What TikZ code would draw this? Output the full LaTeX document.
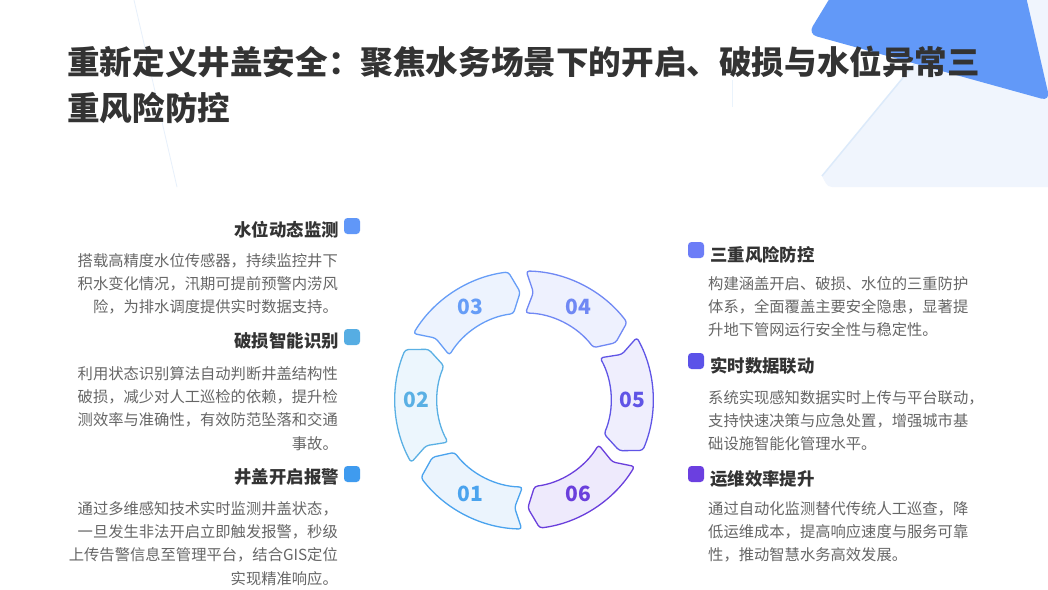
\documentclass[tikz,border=0pt]{standalone}
\usepackage{fontspec}
\setmainfont{Noto Sans CJK SC}
\usetikzlibrary{calc}
\definecolor{titlec}{HTML}{333333}
\definecolor{bodyc}{HTML}{666666}
\definecolor{palebg}{HTML}{F0F5FD}
\definecolor{paleedge}{HTML}{DCEAFA}
\definecolor{blueshape}{HTML}{6299F8}
\definecolor{sA}{HTML}{4AA3EE}\definecolor{fA}{HTML}{EBF4FD}
\definecolor{sB}{HTML}{5AB0E4}\definecolor{fB}{HTML}{ECF6FD}
\definecolor{sC}{HTML}{669DF7}\definecolor{fC}{HTML}{EDF3FE}
\definecolor{sD}{HTML}{7088F4}\definecolor{fD}{HTML}{EEF1FE}
\definecolor{sE}{HTML}{6055E6}\definecolor{fE}{HTML}{EFEEFD}
\definecolor{sF}{HTML}{6A3FDC}\definecolor{fF}{HTML}{EEEAFC}
\definecolor{mA}{HTML}{3F9BEF}
\definecolor{mB}{HTML}{56ADE3}
\definecolor{mC}{HTML}{6097F8}
\definecolor{mD}{HTML}{6C7DF7}
\definecolor{mE}{HTML}{5B52E8}
\definecolor{mF}{HTML}{6B3FE0}
\newcommand{\ringseg}[5]{%
  \draw[segline, draw=#2, fill=#3]
    (#1:129) arc[start angle=#1, end angle=#1-52, radius=129]
    -- ({#1-57}:108) -- ({#1-52}:87)
    arc[start angle=#1-52, end angle=#1, radius=87]
    -- ({#1-4}:108) -- cycle;
  \node[numlabel, text=#2] (#5) at ({#1-29}:108) {#4};
}
\begin{document}
\begin{tikzpicture}[x=1pt,y=-1pt,
  segline/.style={line width=1.3pt, rounded corners=3pt, line join=round},
  numlabel/.style={inner sep=0pt, font=\fontsize{21}{21}\selectfont\bfseries},
  titletext/.style={inner sep=0pt, anchor=north west, align=left, text=titlec,
    font=\fontsize{32.6}{46}\selectfont\bfseries},
  headL/.style={inner sep=0pt, anchor=east, text=titlec, font=\fontsize{17.4}{20}\selectfont\bfseries},
  headR/.style={inner sep=0pt, anchor=west, text=titlec, font=\fontsize{17.4}{20}\selectfont\bfseries},
  bodyL/.style={inner sep=0pt, anchor=north east, align=right, text=bodyc,
    font=\fontsize{15.3}{23.4}\selectfont},
  bodyR/.style={inner sep=0pt, anchor=north west, align=left, text=bodyc,
    font=\fontsize{15.3}{23.4}\selectfont},
  marker/.style={rectangle, rounded corners=3.5pt, minimum size=16pt, inner sep=0pt, draw=none}
]
\useasboundingbox (0,0) rectangle (1048,589);
\fill[white] (0,0) rectangle (1048,589);
% decorative header
\fill[palebg] (967,0) -- (822,176) to[out=-60,in=180] (832,187) -- (1048,187) -- (1048,0) -- cycle;
\draw[paleedge, line width=1.5pt] (967,0) -- (822,176);
\fill[blueshape, rounded corners=9pt] (836,-12) -- (1024,-12) -- (1050,101) -- (808,34) -- cycle;
\draw[paleedge!70!white, line width=0.8pt] (134,0) -- (177,187);
\draw[paleedge!60!white, line width=0.8pt] (732,80) -- (732,107);
% title
\node[titletext] (title) at (67,46) {重新定义井盖安全：聚焦水务场景下的开启、破损与水位异常三\\重风险防控};
% ring
\begin{scope}[shift={(524,400)}, yscale=-1]
  \ringseg{269}{sA}{fA}{01}{n01}
  \ringseg{209}{sB}{fB}{02}{n02}
  \ringseg{149}{sC}{fC}{03}{n03}
  \ringseg{89}{sD}{fD}{04}{n04}
  \ringseg{29}{sE}{fE}{05}{n05}
  \ringseg{-31}{sF}{fF}{06}{n06}
\end{scope}
% left column
\node[marker, fill=mC] (mk3) at (352,226) {};
\node[headL] (h3) at (339,230) {水位动态监测};
\node[bodyL] (b3) at (338,253) {搭载高精度水位传感器，持续监控井下\\积水变化情况，汛期可提前预警内涝风\\险，为排水调度提供实时数据支持。};
\node[marker, fill=mB] (mk2) at (352,337) {};
\node[headL] (h2) at (339,341) {破损智能识别};
\node[bodyL] (b2) at (338,366) {利用状态识别算法自动判断井盖结构性\\破损，减少对人工巡检的依赖，提升检\\测效率与准确性，有效防范坠落和交通\\事故。};
\node[marker, fill=mA] (mk1) at (352,474) {};
\node[headL] (h1) at (339,477) {井盖开启报警};
\node[bodyL] (b1) at (338,501) {通过多维感知技术实时监测井盖状态，\\一旦发生非法开启立即触发报警，秒级\\上传告警信息至管理平台，结合GIS定位\\实现精准响应。};
% right column
\node[marker, fill=mD] (mk4) at (696,250) {};
\node[headR] (h4) at (710,255) {三重风险防控};
\node[bodyR] (b4) at (708,276) {构建涵盖开启、破损、水位的三重防护\\体系，全面覆盖主要安全隐患，显著提\\升地下管网运行安全性与稳定性。};
\node[marker, fill=mE] (mk5) at (696,361) {};
\node[headR] (h5) at (710,366) {实时数据联动};
\node[bodyR] (b5) at (708,390) {系统实现感知数据实时上传与平台联动，\\支持快速决策与应急处置，增强城市基\\础设施智能化管理水平。};
\node[marker, fill=mF] (mk6) at (696,474) {};
\node[headR] (h6) at (710,479) {运维效率提升};
\node[bodyR] (b6) at (708,501) {通过自动化监测替代传统人工巡查，降\\低运维成本，提高响应速度与服务可靠\\性，推动智慧水务高效发展。};
\end{tikzpicture}
\end{document}
